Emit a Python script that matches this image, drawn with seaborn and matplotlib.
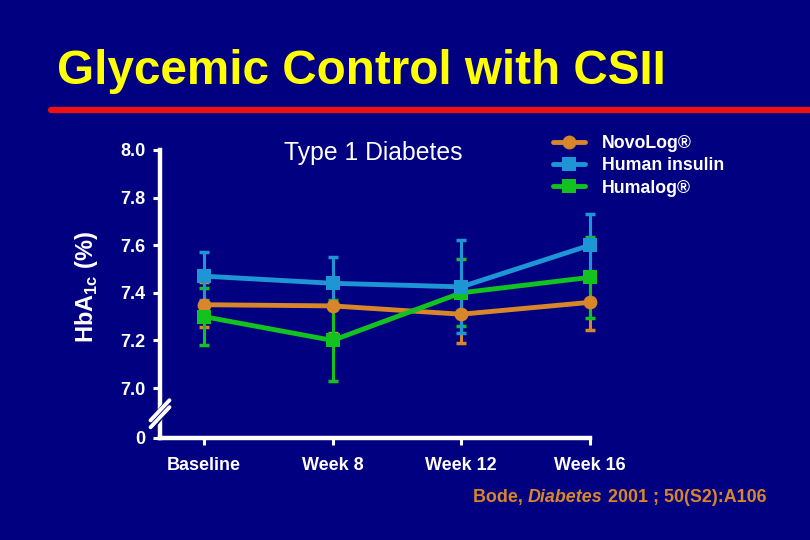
# glycemic_control.py

import pandas as pd
import matplotlib
matplotlib.use("Agg")
import matplotlib.pyplot as plt
import seaborn as sns

# --- data ---
visits = ["Baseline", "Week 8", "Week 12", "Week 16"]
groups = ["NovoLog®", "Human insulin", "Humalog®"]

novolog = [7.35, 7.345, 7.31, 7.36]
novolog_err = [0.095, 0.115, 0.12, 0.115]
human = [7.47, 7.44, 7.425, 7.60]
human_err = [0.10, 0.11, 0.195, 0.13]
humalog = [7.30, 7.20, 7.40, 7.465]
humalog_err = [0.12, 0.17, 0.14, 0.17]

y_ticks = [7.0, 7.2, 7.4, 7.6, 7.8, 8.0]
y_tick_labels = ["7.0", "7.2", "7.4", "7.6", "7.8", "8.0"]

navy = "#000080"
colors = {"NovoLog®": "#D8862A", "Human insulin": "#1E96D6", "Humalog®": "#12C21E"}
markers = {"NovoLog®": "o", "Human insulin": "s", "Humalog®": "s"}

rows = []
for name, vals, errs in [(groups[0], novolog, novolog_err),
                         (groups[1], human, human_err),
                         (groups[2], humalog, humalog_err)]:
    for i, (v, e) in enumerate(zip(vals, errs)):
        rows.append({"pos": i, "group": name, "hba1c": v, "err": e})
df = pd.DataFrame(rows)

sns.set_theme(style="ticks")
plt.rcParams["font.family"] = ["Liberation Sans", "DejaVu Sans"]
plt.rcParams["mathtext.fontset"] = "custom"
plt.rcParams["mathtext.rm"] = "Liberation Sans"
plt.rcParams["mathtext.bf"] = "Liberation Sans:bold"

fig = plt.figure(figsize=(8.1, 5.4), dpi=100, facecolor=navy)
ax = fig.add_axes([160 / 810, 1 - 438 / 540, 430 / 810, 288 / 540])
ax.set_facecolor(navy)

# error bars sit under all the lines; orange at the back, blue on top
z = {"NovoLog®": 4, "Humalog®": 5, "Human insulin": 6}
for name in ["NovoLog®", "Humalog®", "Human insulin"]:
    sub = df[df["group"] == name]
    ax.errorbar(sub["pos"], sub["hba1c"], yerr=sub["err"], fmt="none",
                ecolor=colors[name], elinewidth=2.2, capsize=3.8, capthick=2.5,
                zorder=z[name] - 3.5, clip_on=False)

sns.lineplot(data=df, x="pos", y="hba1c", hue="group", style="group",
             hue_order=groups, style_order=groups, palette=colors,
             markers=markers, dashes=False, linewidth=3.5, markersize=10,
             markeredgewidth=0, ax=ax, legend=True)
for line in ax.lines:
    line.set_clip_on(False)
    c = matplotlib.colors.to_hex(line.get_color()).lower()
    for name, col in colors.items():
        if c == col.lower():
            line.set_zorder(z[name])

handles, labels = ax.get_legend_handles_labels()
ax.get_legend().remove()
for h in handles:
    h.set_linewidth(3.5)
    h.set_markersize(10)
fig.legend(handles, labels, loc="upper left", bbox_to_anchor=(553 / 810, 1 - 135 / 540),
           frameon=False, borderpad=0, borderaxespad=0, handlelength=1.8,
           handletextpad=0.95, labelspacing=0.3,
           prop={"weight": "bold", "size": 12.8}, labelcolor="white")

# axes styling
ax.set_xlim(-44 / 129, 3.0)
ax.set_ylim(6.79, 8.0)
ax.set_xticks(range(len(visits)))
ax.set_xticklabels(visits)
ax.set_yticks([6.79] + y_ticks)
ax.set_yticklabels(["0"] + y_tick_labels)
for s in ["top", "right"]:
    ax.spines[s].set_visible(False)
for s in ["left", "bottom"]:
    ax.spines[s].set_color("white")
    ax.spines[s].set_linewidth(3.2)
    ax.spines[s].set_zorder(2)
ax.tick_params(colors="white", width=2.2, length=5)
ax.tick_params(axis="y", pad=5.5, labelsize=13)
ax.tick_params(axis="x", pad=9, labelsize=13)
for lab in ax.get_xticklabels() + ax.get_yticklabels():
    lab.set_fontweight("bold")
ax.set_xlabel("")
ax.set_ylabel("")

# axis break on the y axis
yb = (6.91 - 6.79) / 1.21
ax.plot([-0.015, 0.015], [yb - 0.045, yb + 0.01], transform=ax.transAxes,
        color=navy, linewidth=7, clip_on=False, zorder=6, solid_capstyle="butt")
for off in [-0.012, 0.012]:
    ax.plot([-0.022, 0.022], [yb - 0.05 + off, yb + 0.02 + off], transform=ax.transAxes,
            color="white", linewidth=2.8, clip_on=False, zorder=7)

fig.text(86 / 810, 1 - 287 / 540, r"HbA$_{\mathbf{1c}}$ (%)", rotation=90,
         ha="center", va="center", color="white", fontsize=17, fontweight="bold")

ax.text(373 / 810, 1 - 153 / 540, "Type 1 Diabetes", transform=fig.transFigure,
        ha="center", va="center", color="white", fontsize=17.8)

# title and red rule
fig.text(57 / 810, 1 - 84 / 540, "Glycemic Control with CSII", ha="left",
         va="baseline", color="#FFFF00", fontsize=34.3, fontweight="bold")
fig.add_artist(plt.Line2D([51 / 810, 1.0], [1 - 110 / 540, 1 - 110 / 540],
                          color="#F01010", linewidth=4.5, transform=fig.transFigure))

# citation with italic journal name
orange_txt = "#D8862A"
fig.canvas.draw()
renderer = fig.canvas.get_renderer()
x0 = 473 / 810
ycit = 1 - 502 / 540
for piece, style in [("Bode, ", "normal"), ("Diabetes", "italic"),
                     (" 2001 ; 50(S2):A106", "normal")]:
    t = fig.text(x0, ycit, piece, ha="left", va="baseline", color=orange_txt,
                 fontsize=12.9, fontweight="bold", fontstyle=style)
    bb = t.get_window_extent(renderer=renderer)
    x0 += bb.width / fig.bbox.width

fig.savefig("out.png", dpi=100, facecolor=navy)
